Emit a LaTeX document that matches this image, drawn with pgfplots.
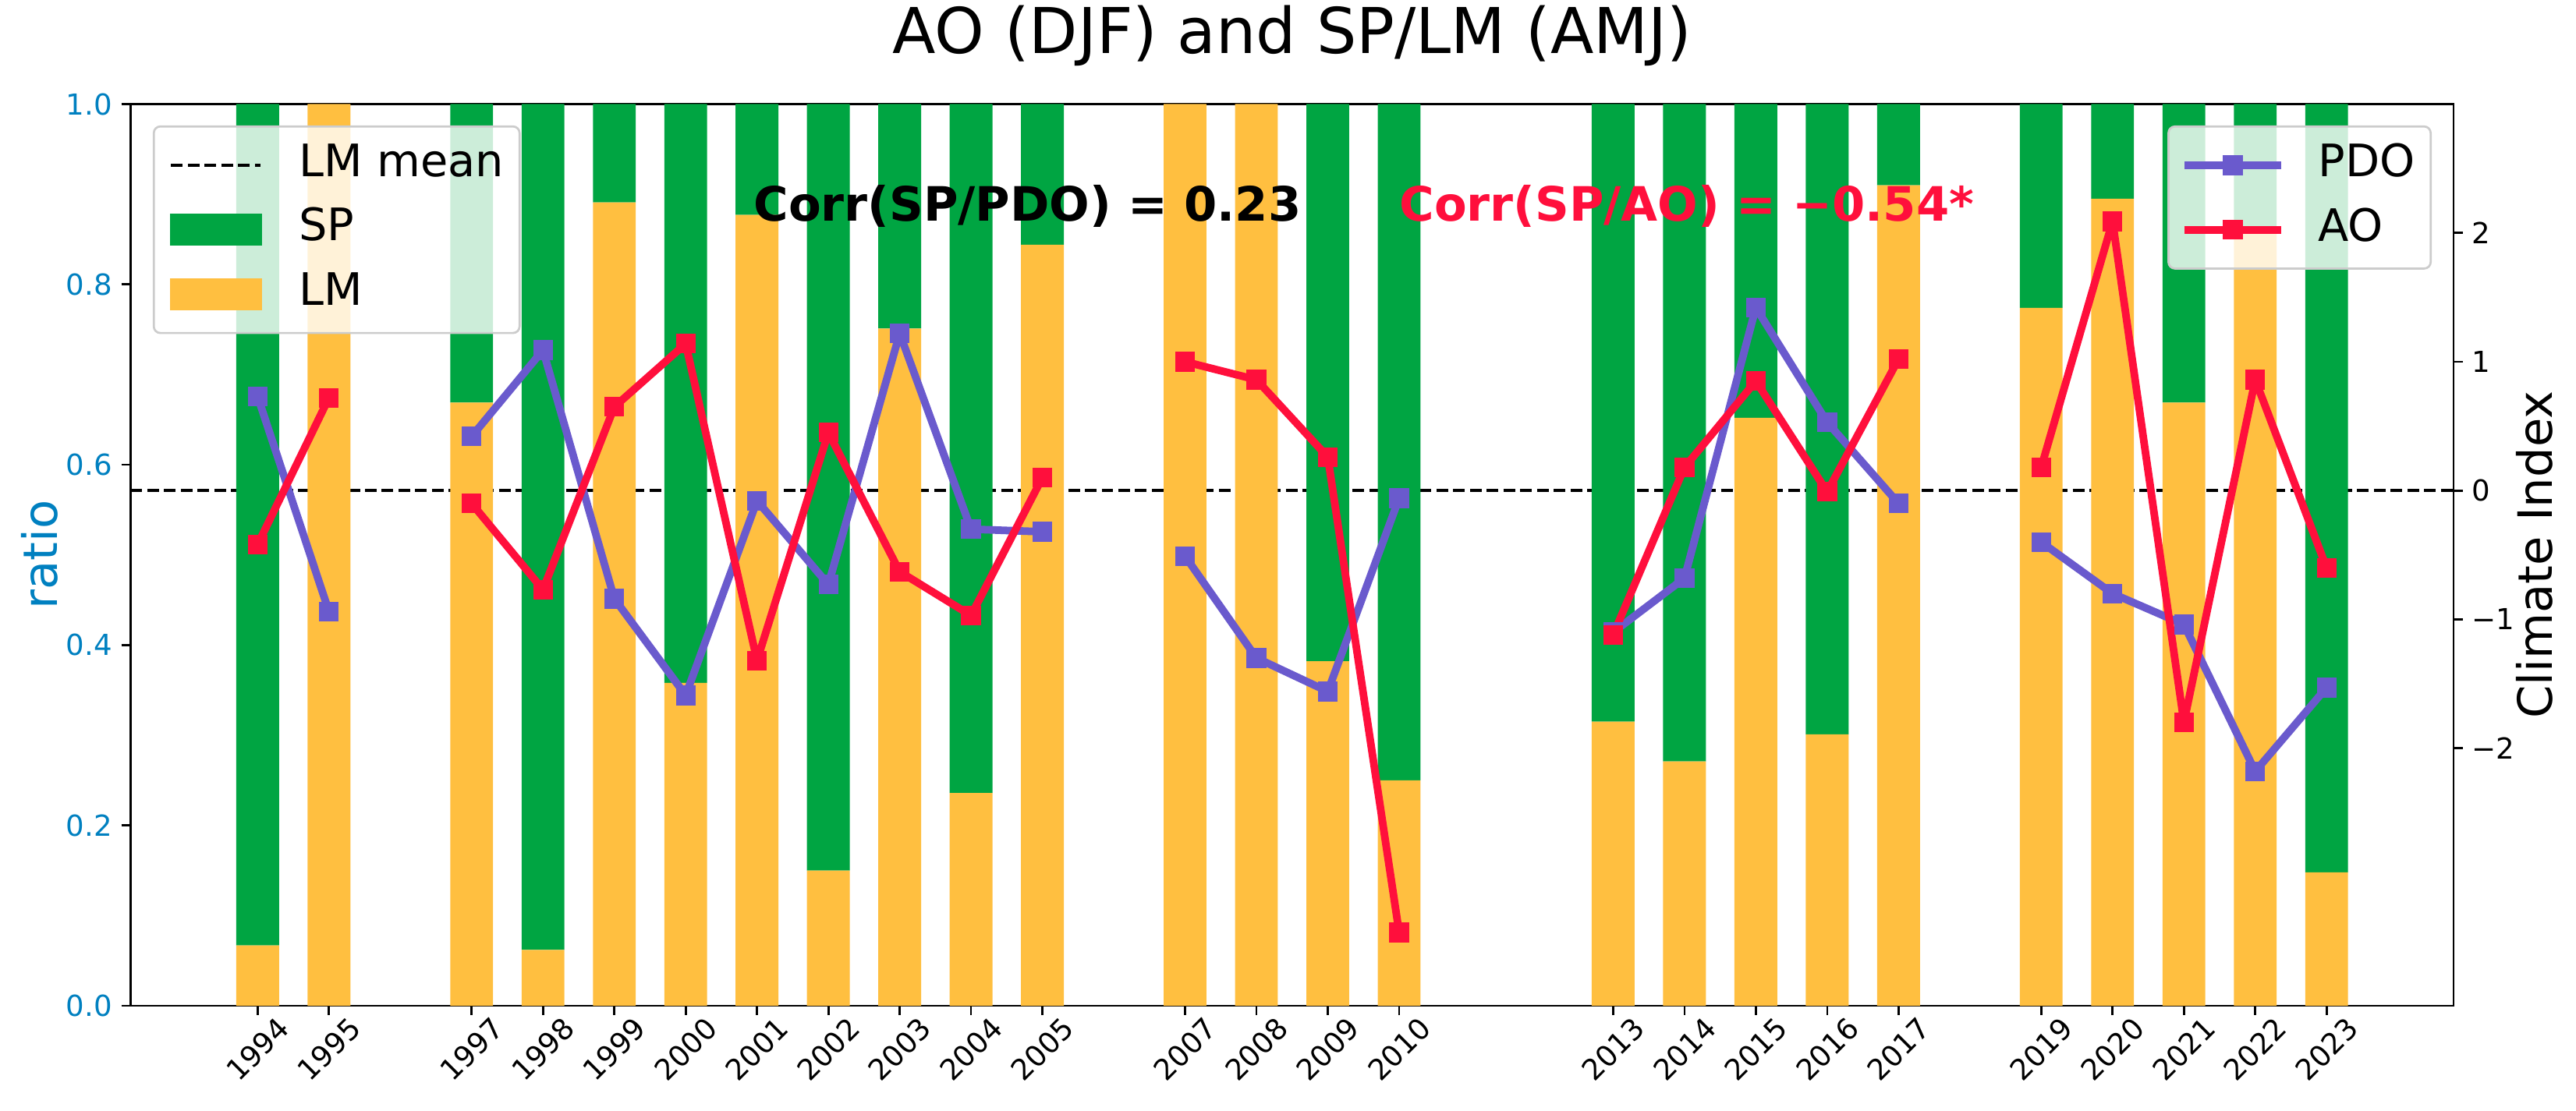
\documentclass[border=0pt]{standalone}
\usepackage{pgfplots}
\pgfplotsset{compat=1.18}
\usepackage{pgfplotstable}
\usepackage{graphicx}
\usepackage{fontspec}
\setmainfont{DejaVu Sans}
\definecolor{spgreen}{RGB}{0,165,66}
\definecolor{lmyellow}{RGB}{255,191,64}
\definecolor{pdopurple}{RGB}{106,90,205}
\definecolor{aored}{RGB}{255,15,60}
\definecolor{ratioblue}{RGB}{0,128,192}
\newcommand{\R}[1]{\rotatebox{45}{#1}}
\newcommand{\tickfont}{\fontsize{11}{13}\selectfont}
\newcommand{\labfont}{\fontsize{18}{21}\selectfont}
\newcommand{\legfont}{\fontsize{17}{20}\selectfont}

\pgfplotstableread{
year LM SP
1994 0.067 0.933
1995 1.000 0.000
1997 0.669 0.331
1998 0.062 0.938
1999 0.891 0.109
2000 0.358 0.642
2001 0.877 0.123
2002 0.150 0.850
2003 0.751 0.249
2004 0.236 0.764
2005 0.844 0.156
2007 1.000 0.000
2008 1.000 0.000
2009 0.382 0.618
2010 0.250 0.750
2013 0.315 0.685
2014 0.271 0.729
2015 0.652 0.348
2016 0.301 0.699
2017 0.910 0.090
2019 0.774 0.226
2020 0.895 0.105
2021 0.669 0.331
2022 0.856 0.144
2023 0.148 0.852
}\bars

\pgfplotstableread{
year PDO AO
1994 0.73 -0.42
1995 -0.94 0.72
1996 nan nan
1997 0.42 -0.10
1998 1.09 -0.77
1999 -0.84 0.65
2000 -1.59 1.14
2001 -0.08 -1.32
2002 -0.73 0.45
2003 1.22 -0.63
2004 -0.30 -0.97
2005 -0.32 0.10
2006 nan nan
2007 -0.51 1.00
2008 -1.30 0.86
2009 -1.56 0.26
2010 -0.06 -3.43
2011 nan nan
2013 -1.10 -1.12
2014 -0.68 0.18
2015 1.42 0.85
2016 0.53 -0.01
2017 -0.10 1.02
2018 nan nan
2019 -0.40 0.18
2020 -0.80 2.09
2021 -1.04 -1.80
2022 -2.18 0.86
2023 -1.53 -0.60
}\idx

\pgfplotsset{
  mylegend/.style={
    legend cell align=left,
    legend style={draw=black!20, line width=0.8pt, rounded corners=2.5pt,
      fill=white, fill opacity=0.8, text opacity=1,
      font=\legfont, inner xsep=6pt, inner ysep=2.5pt, row sep=0pt,
      nodes={inner xsep=0pt, inner ysep=4pt, text height=12.5pt, text depth=4pt},
      /tikz/every odd column/.append style={column sep=14pt}},
  },
}

\begin{document}
\begin{tikzpicture}
\useasboundingbox (-49.63pt,-39.70pt) rectangle (929.02pt,382.23pt);
\begin{axis}[
  at={(0pt,0pt)}, anchor=south west,
  scale only axis, width=882.5pt, height=342.67pt,
  xmin=1992.22, xmax=2024.78, ymin=0, ymax=1,
  ybar stacked, bar width=16.26pt,
  axis line style={black, line width=0.8pt},
  tick align=outside, major tick length=3.5pt,
  tick style={black, line width=0.8pt},
  xtick pos=bottom, ytick pos=left,
  xtick={1994,1995,1997,1998,1999,2000,2001,2002,2003,2004,2005,2007,2008,2009,2010,2013,2014,2015,2016,2017,2019,2020,2021,2022,2023},
  xticklabels={\R{1994},\R{1995},\R{1997},\R{1998},\R{1999},\R{2000},\R{2001},\R{2002},\R{2003},\R{2004},\R{2005},\R{2007},\R{2008},\R{2009},\R{2010},\R{2013},\R{2014},\R{2015},\R{2016},\R{2017},\R{2019},\R{2020},\R{2021},\R{2022},\R{2023}},
  xticklabel style={anchor=north, inner sep=0pt, font=\tickfont},
  ytick={0,0.2,0.4,0.6,0.8,1.0},
  yticklabel style={color=ratioblue, font=\tickfont},
  /pgf/number format/fixed, /pgf/number format/fixed zerofill,
  /pgf/number format/precision=1, /pgf/number format/assume math mode=true,
  ylabel={ratio},
  ylabel style={color=ratioblue, font=\labfont, at={(axis description cs:-0.0314,0.5)}, anchor=base},
  title={AO (DJF) and SP/LM (AMJ)},
  title style={at={(0.5,1)}, anchor=base, yshift=13.2pt, inner sep=0pt, font=\fontsize{24}{28}\selectfont},
  mylegend,
  legend style={at={(0,1)}, anchor=north west, xshift=8.4pt, yshift=-8.1pt},
]
\addlegendimage{legend image code/.code={\draw[opacity=1, black, line width=1.2pt, dash pattern=on 4.44pt off 1.92pt] (0pt,0pt) -- (34pt,0pt);}}
\addlegendentry{LM mean}
\addlegendimage{legend image code/.code={\fill[opacity=1, spgreen, sharp corners] (0pt,-5.6pt) rectangle (34pt,5.6pt);}}
\addlegendentry{SP}
\addlegendimage{legend image code/.code={\fill[opacity=1, lmyellow, sharp corners] (0pt,-5.6pt) rectangle (34pt,5.6pt);}}
\addlegendentry{LM}
\addplot[fill=lmyellow, draw=none, forget plot] table[x=year, y=LM] {\bars};
\addplot[fill=spgreen, draw=none, forget plot] table[x=year, y=SP] {\bars};
\addplot[sharp plot, stack plots=false, forget plot, black, line width=1.2pt, dash pattern=on 4.44pt off 1.92pt] coordinates {(1992.22,0.5714) (2024.78,0.5714)};
\end{axis}
\begin{axis}[
  at={(0pt,0pt)}, anchor=south west,
  scale only axis, width=882.5pt, height=342.67pt,
  xmin=1992.22, xmax=2024.78, ymin=-4, ymax=3,
  axis x line=none, axis y line*=right,
  axis line style={black, line width=0.8pt},
  tick align=outside, major tick length=3.5pt,
  tick style={black, line width=0.8pt},
  ytick={-2,-1,0,1,2}, yticklabels={−2,−1,0,1,2},
  yticklabel style={font=\tickfont},
  ylabel={Climate Index},
  ylabel style={font=\labfont, at={(axis description cs:1.0426,0.5)}, anchor=base},
  unbounded coords=jump,
  mylegend,
  legend style={at={(1,1)}, anchor=north east, xshift=-8.3pt, yshift=-8.1pt},
  legend image code/.code={\draw[mark repeat=2, mark phase=2, opacity=1, line cap=rect, #1] plot coordinates {(0pt,0pt) (17pt,0pt) (34pt,0pt)};},
]
\node[anchor=base west, font=\bfseries\labfont, inner sep=0pt] at (rel axis cs:0.268,0.8705) {Corr(SP/PDO) = 0.23};
\node[anchor=base west, font=\bfseries\labfont, inner sep=0pt, text=aored] at (rel axis cs:0.546,0.8705) {Corr(SP/AO) = −0.54*};
\addplot[pdopurple, line width=2.9pt, line join=round, mark=square*, mark size=3.6pt, mark options={solid, line width=0pt}] table[x=year, y=PDO] {\idx};
\addlegendentry{PDO}
\addplot[aored, line width=2.9pt, line join=round, mark=square*, mark size=3.6pt, mark options={solid, line width=0pt}] table[x=year, y=AO] {\idx};
\addlegendentry{AO}
\end{axis}
\end{tikzpicture}
\end{document}
